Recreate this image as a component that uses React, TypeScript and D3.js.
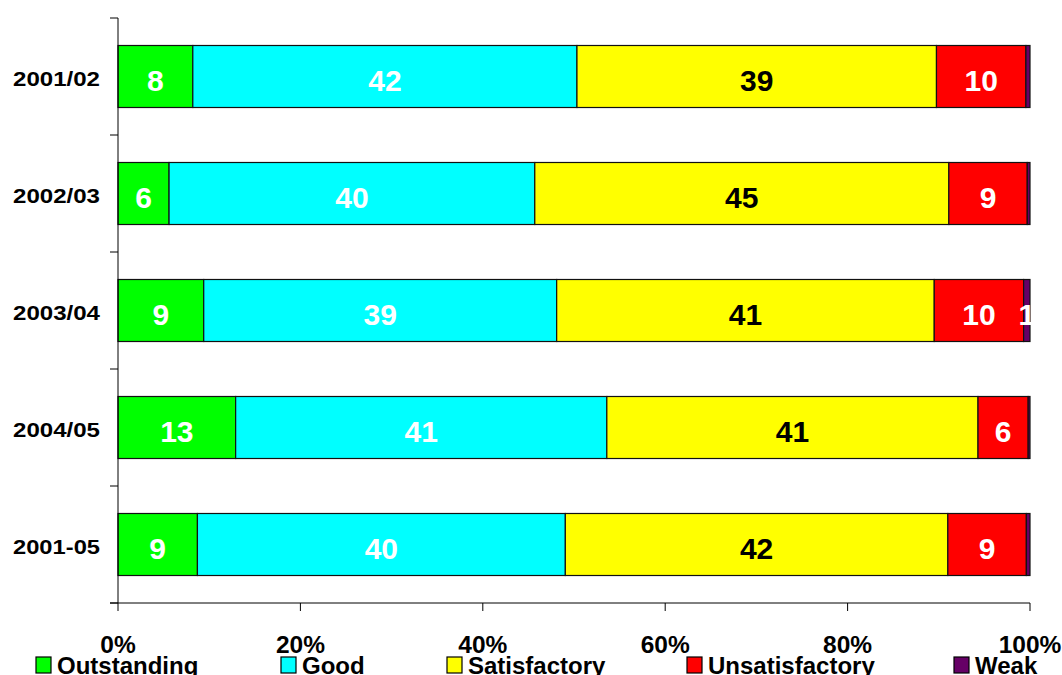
import React from "react";
import * as d3 from "d3";

const categories = ["2001/02", "2002/03", "2003/04", "2004/05", "2001-05"];
const outstanding = [8.2, 5.6, 9.4, 12.9, 8.7];
const good = [42.1, 40.1, 38.7, 40.7, 40.3];
const satisfactory = [39.4, 45.4, 41.4, 40.7, 41.9];
const unsatisfactory = [9.8, 8.6, 9.8, 5.5, 8.6];
const weak = [0.45, 0.3, 0.7, 0.2, 0.4];
const seriesNames = ["Outstanding", "Good", "Satisfactory", "Unsatisfactory", "Weak"];
const seriesValues = [outstanding, good, satisfactory, unsatisfactory, weak];
const colors = ["#00FF00", "#00FFFF", "#FFFF00", "#FF0000", "#660066"];
const labelColors = ["#fff", "#fff", "#000", "#fff", "#fff"];
const xTicks = [0, 20, 40, 60, 80, 100];

const W = 1062;
const H = 675;
const FONT = "'Liberation Sans', Arial, sans-serif";

export default function App() {
  const x = d3.scaleLinear().domain([0, 100]).range([118, 1030]);
  const y = d3
    .scaleBand<string>()
    .domain(categories)
    .range([18, 603])
    .paddingInner(0.47)
    .paddingOuter(0.235);

  const rows = categories.map((c, i) => {
    const r: any = { cat: c };
    seriesNames.forEach((s, k) => (r[s] = seriesValues[k][i]));
    return r;
  });
  const stacked = d3.stack().keys(seriesNames).offset(d3.stackOffsetExpand)(rows);

  const step = y.step();
  const boundaries = d3.range(categories.length + 1).map((i) => 18 + i * step);
  const legendX = [36, 281, 447, 687, 954];

  return (
    <svg
      width={W}
      height={H}
      style={{ position: "absolute", left: 0, top: 0, background: "#fff" }}
      fontFamily={FONT}
      fontWeight="bold"
    >
      <rect x={0} y={0} width={W} height={H} fill="#fff" />
      {/* bars */}
      {stacked.map((layer, k) => (
        <g key={layer.key}>
          {layer.map((d, i) => {
            const x0 = x(d[0] * 100);
            const x1 = x(d[1] * 100);
            const by = y(categories[i])!;
            return (
              <rect
                key={i}
                x={x0}
                y={by}
                width={Math.max(0, x1 - x0)}
                height={y.bandwidth()}
                fill={colors[k]}
                stroke="#111"
                strokeWidth={1.2}
              />
            );
          })}
        </g>
      ))}
      {/* bar labels */}
      {stacked.map((layer, k) => (
        <g key={"l" + layer.key}>
          {layer.map((d, i) => {
            const v = seriesValues[k][i];
            const lbl = Math.round(v);
            if (lbl === 0) return null;
            const cx = x(((d[0] + d[1]) / 2) * 100);
            const cy = y(categories[i])! + y.bandwidth() / 2;
            return (
              <text
                key={i}
                x={cx}
                y={cy + 14}
                textAnchor="middle"
                fontSize={30}
                fill={labelColors[k]}
              >
                {lbl}
              </text>
            );
          })}
        </g>
      ))}
      {/* y axis */}
      <line x1={118} x2={118} y1={18} y2={603} stroke="#000" strokeWidth={1} />
      {boundaries.map((b, i) => (
        <line key={i} x1={110} x2={118} y1={b} y2={b} stroke="#000" strokeWidth={1} />
      ))}
      {categories.map((c) => (
        <text
          key={c}
          x={100}
          y={y(c)! + y.bandwidth() / 2 + 9.5}
          textAnchor="end"
          fontSize={20.5}
          textLength={87}
          lengthAdjust="spacingAndGlyphs"
          fill="#000"
        >
          {c}
        </text>
      ))}
      {/* x axis */}
      <line x1={110} x2={1030} y1={603} y2={603} stroke="#000" strokeWidth={1} />
      {xTicks.map((t) => (
        <g key={t}>
          <line x1={x(t)} x2={x(t)} y1={603} y2={611} stroke="#000" strokeWidth={1} />
          <text x={x(t)} y={653} textAnchor="middle" fontSize={24.5} fill="#000">
            {t + "%"}
          </text>
        </g>
      ))}
      {/* legend */}
      {seriesNames.map((s, k) => (
        <g key={s}>
          <rect
            x={legendX[k]}
            y={657}
            width={15}
            height={16}
            fill={colors[k]}
            stroke="#000"
            strokeWidth={1.2}
          />
          <text x={legendX[k] + 21} y={674} fontSize={24} fill="#000">
            {s}
          </text>
        </g>
      ))}
    </svg>
  );
}
